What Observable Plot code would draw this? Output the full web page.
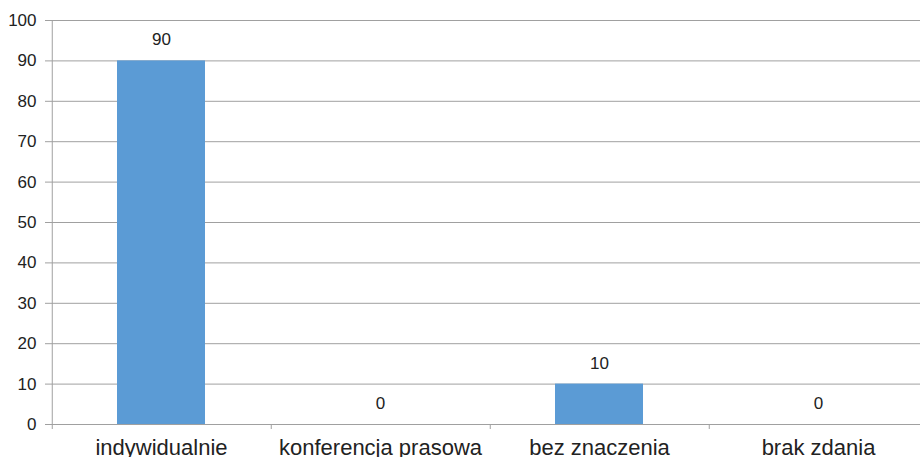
<!DOCTYPE html>
<html><head><meta charset="utf-8">
<script src="https://cdn.jsdelivr.net/npm/d3@7"></script>
<script src="https://cdn.jsdelivr.net/npm/@observablehq/plot@0.6"></script>
<style>body{margin:0;background:#fff;font-family:"Liberation Sans",Arial,sans-serif;}</style>
</head><body><div id="chart"></div>
<script>
const categories = ["indywidualnie", "konferencja prasowa", "bez znaczenia", "brak zdania"];
const values = [90, 0, 10, 0];
const yTicks = [0, 10, 20, 30, 40, 50, 60, 70, 80, 90, 100];

const data = categories.map((c, i) => ({category: c, value: values[i]}));
const x0 = 50, x1 = 928;
const step = (x1 - x0) / categories.length;
const tickLen = 5 * 100 / 404; // 5px in y units

const chart = Plot.plot({
  width: 920,
  height: 457,
  marginLeft: 50,
  marginRight: 0,
  marginTop: 20,
  marginBottom: 33,
  style: {fontFamily: "'Liberation Sans', Arial, sans-serif", fontSize: "17px", color: "#222", background: "#fff", overflow: "hidden"},
  x: {domain: categories, range: [x0, x1], paddingInner: 0.6, paddingOuter: 0.3, axis: null},
  y: {domain: [0, 100], range: [424, 20], axis: null},
  marks: [
    Plot.gridY(yTicks, {stroke: "#a0a0a0", strokeOpacity: 1}),
    Plot.ruleX([categories[0]], {x: d => d, y1: 0, y2: 100, dx: -step / 2 + 0.5, stroke: "#a0a0a0"}),
    Plot.barY(data, {x: "category", y: "value", fill: "#5B9BD5"}),
    Plot.axisY(yTicks, {tickSize: 5, tickPadding: 9, stroke: "#a0a0a0", fill: "#222", fontSize: 17, label: null}),
    Plot.axisX(categories, {tickSize: 0, tickPadding: 15, fill: "#222", fontSize: 22, label: null}),
    Plot.ruleX(categories, {x: d => d, y1: 0, y2: -tickLen, dx: -step / 2 + 0.5, stroke: "#a0a0a0"}),
    Plot.text(data, {x: "category", y: "value", text: d => String(d.value), dy: -21, fill: "#222", fontSize: 17})
  ]
});
document.getElementById("chart").appendChild(chart);
</script>
</body></html>
